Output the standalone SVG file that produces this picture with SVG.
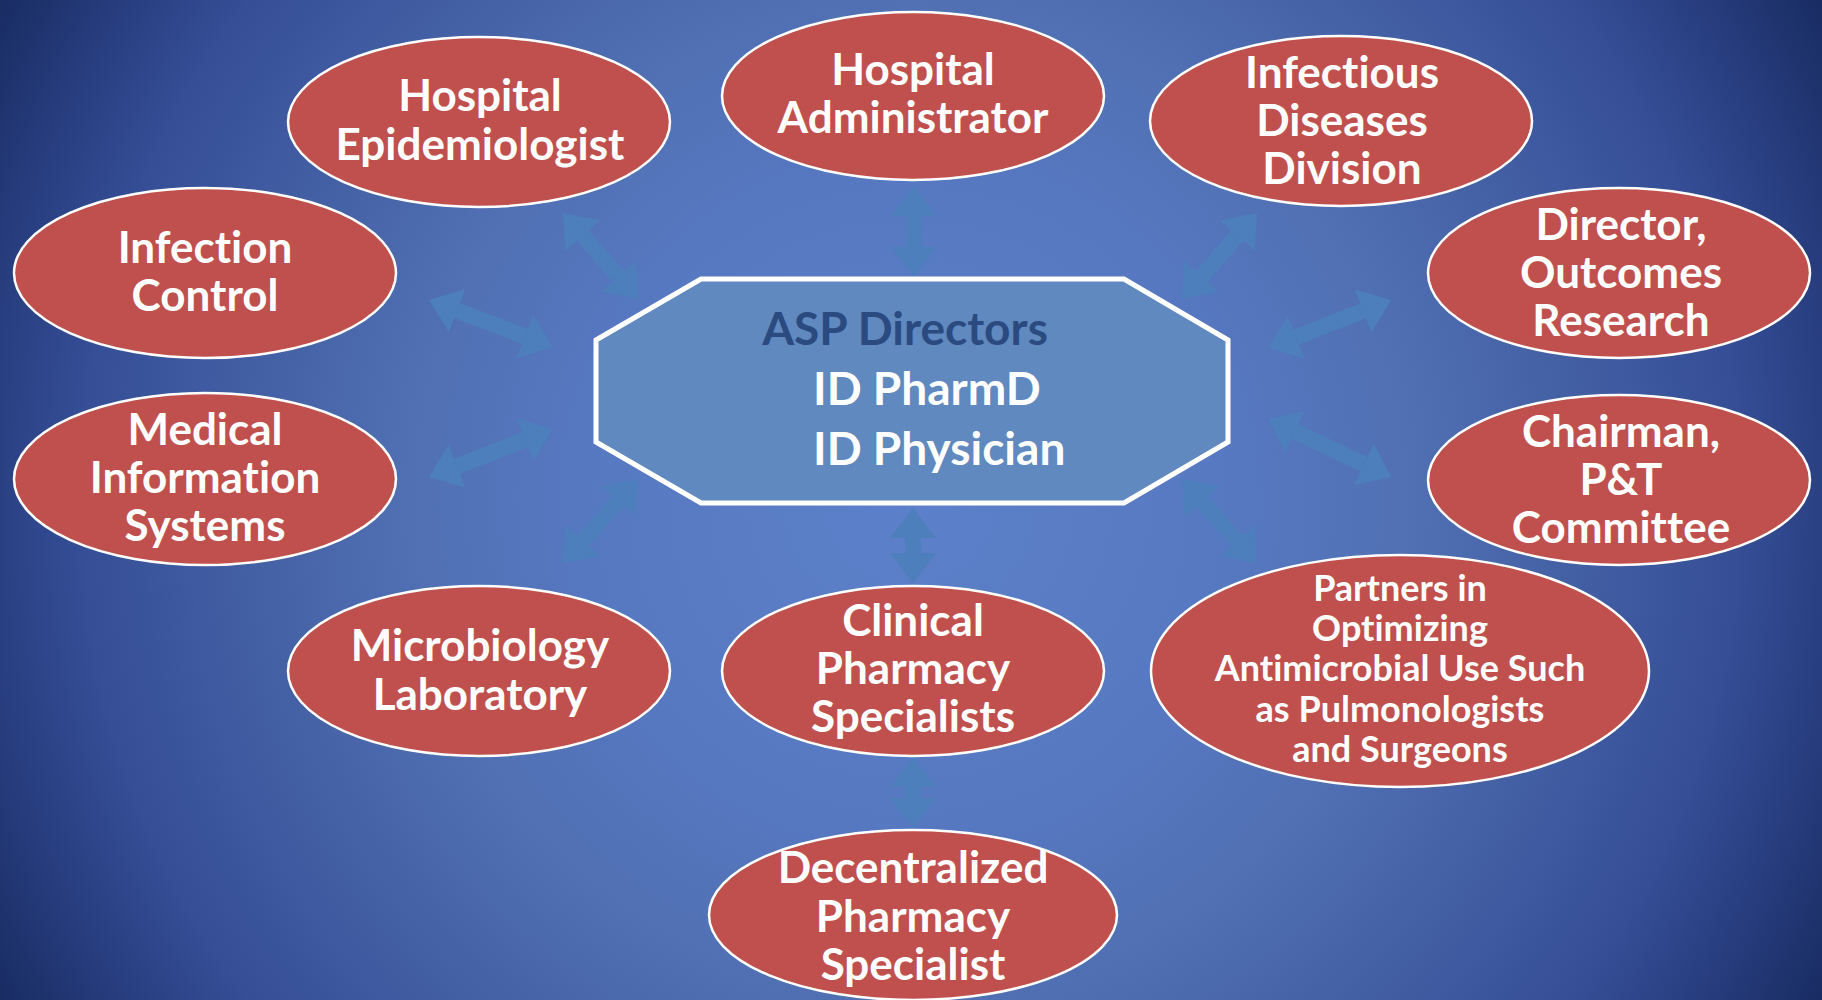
<svg xmlns="http://www.w3.org/2000/svg" width="1822" height="1000" viewBox="0 0 1822 1000">
<defs>
<radialGradient id="bg" gradientUnits="userSpaceOnUse" cx="910" cy="500" r="1036">
<stop offset="0" stop-color="#5C80C9"/>
<stop offset="0.3" stop-color="#5779C2"/>
<stop offset="0.48" stop-color="#5170B4"/>
<stop offset="0.64" stop-color="#4460A5"/>
<stop offset="0.8" stop-color="#354E96"/>
<stop offset="0.9" stop-color="#273D7E"/>
<stop offset="1" stop-color="#192C63"/>
</radialGradient>
<marker id="head" viewBox="0 0 30 46" refX="0" refY="23" markerWidth="30" markerHeight="46" markerUnits="userSpaceOnUse" orient="auto-start-reverse">
<path d="M0,0 L30,23 L0,46 Z" fill="#4D7FBD"/>
</marker>
<style>
text{font-variant-ligatures:none;font-feature-settings:"liga" 0,"clig" 0}
.node ellipse{fill:#C0504D;stroke:#FFFFFF;stroke-width:2.5}
.node text{font-family:Lato,"Open Sans",sans-serif;font-weight:bold;fill:#FFFFFF;text-anchor:middle;font-size:44px}
.node text.small{font-size:36px}
#connectors line{stroke:#4D7FBD;stroke-width:16;marker-start:url(#head);marker-end:url(#head)}
.center text{font-family:Lato,"Open Sans",sans-serif;font-weight:bold;font-size:46px}
</style>
</defs>
<rect x="0" y="0" width="1822" height="1000" fill="url(#bg)"/>

<g id="connectors">
<line x1="582.7" y1="235.6" x2="618.3" y2="276.4"/>
<line x1="457.1" y1="310.6" x2="524.9" y2="336.4"/>
<line x1="457" y1="466.2" x2="525" y2="439.8"/>
<line x1="583" y1="540.6" x2="618" y2="501.4"/>
<line x1="1237.3" y1="235.6" x2="1201.7" y2="276.4"/>
<line x1="1363" y1="310.9" x2="1296" y2="337.1"/>
<line x1="1295.1" y1="431.8" x2="1363.9" y2="464.2"/>
<line x1="1202" y1="501.4" x2="1237" y2="540.6"/>
<line x1="914" y1="216" x2="914" y2="247"/>
<line x1="913" y1="538" x2="913" y2="553"/>
<line x1="913" y1="787" x2="913" y2="798"/>
</g>

<g id="asp-directors" class="center">
<polygon points="701,279 1124,279 1228,340 1228,442 1124,503 701,503 596,442 596,340" fill="#5F89BF" stroke="#FFFFFF" stroke-width="5"/>
<text x="905" y="345" text-anchor="middle" fill="#2B4A80">ASP Directors</text>
<text x="813" y="405" fill="#FFFFFF">ID PharmD</text>
<text x="813" y="465" fill="#FFFFFF">ID Physician</text>
</g>

<g id="hospital-epidemiologist" class="node">
<ellipse cx="479" cy="122" rx="191" ry="85"/>
<text x="480" y="111">Hospital</text>
<text x="480" y="160">Epidemiologist</text>
</g>

<g id="hospital-administrator" class="node">
<ellipse cx="913" cy="96" rx="191" ry="84"/>
<text x="913" y="85">Hospital</text>
<text x="913" y="133">Administrator</text>
</g>

<g id="infectious-diseases-division" class="node">
<ellipse cx="1341" cy="121" rx="191" ry="85"/>
<text x="1342" y="88">Infectious</text>
<text x="1342" y="136">Diseases</text>
<text x="1342" y="184">Division</text>
</g>

<g id="director-outcomes-research" class="node">
<ellipse cx="1619" cy="273" rx="191" ry="85"/>
<text x="1621" y="240">Director,</text>
<text x="1621" y="288">Outcomes</text>
<text x="1621" y="336">Research</text>
</g>

<g id="chairman-pt-committee" class="node">
<ellipse cx="1619" cy="480" rx="191" ry="85"/>
<text x="1621" y="447">Chairman,</text>
<text x="1621" y="495">P&amp;T</text>
<text x="1621" y="543">Committee</text>
</g>

<g id="partners" class="node">
<ellipse cx="1400" cy="671" rx="249" ry="116"/>
<text class="small" x="1400" y="601">Partners in</text>
<text class="small" x="1400" y="641">Optimizing</text>
<text class="small" x="1400" y="681">Antimicrobial Use Such</text>
<text class="small" x="1400" y="722">as Pulmonologists</text>
<text class="small" x="1400" y="762">and Surgeons</text>
</g>

<g id="clinical-pharmacy-specialists" class="node">
<ellipse cx="913" cy="671" rx="191" ry="85"/>
<text x="913" y="636">Clinical</text>
<text x="913" y="684">Pharmacy</text>
<text x="913" y="732">Specialists</text>
</g>

<g id="decentralized-pharmacy-specialist" class="node">
<ellipse cx="913" cy="915" rx="204" ry="85"/>
<text x="913" y="883">Decentralized</text>
<text x="913" y="932">Pharmacy</text>
<text x="913" y="980">Specialist</text>
</g>

<g id="microbiology-laboratory" class="node">
<ellipse cx="479" cy="671" rx="191" ry="85"/>
<text x="480" y="661">Microbiology</text>
<text x="480" y="710">Laboratory</text>
</g>

<g id="medical-information-systems" class="node">
<ellipse cx="205" cy="479" rx="191" ry="86"/>
<text x="205" y="445">Medical</text>
<text x="205" y="493">Information</text>
<text x="205" y="541">Systems</text>
</g>

<g id="infection-control" class="node">
<ellipse cx="205" cy="273" rx="191" ry="85"/>
<text x="205" y="263">Infection</text>
<text x="205" y="311">Control</text>
</g>
</svg>
